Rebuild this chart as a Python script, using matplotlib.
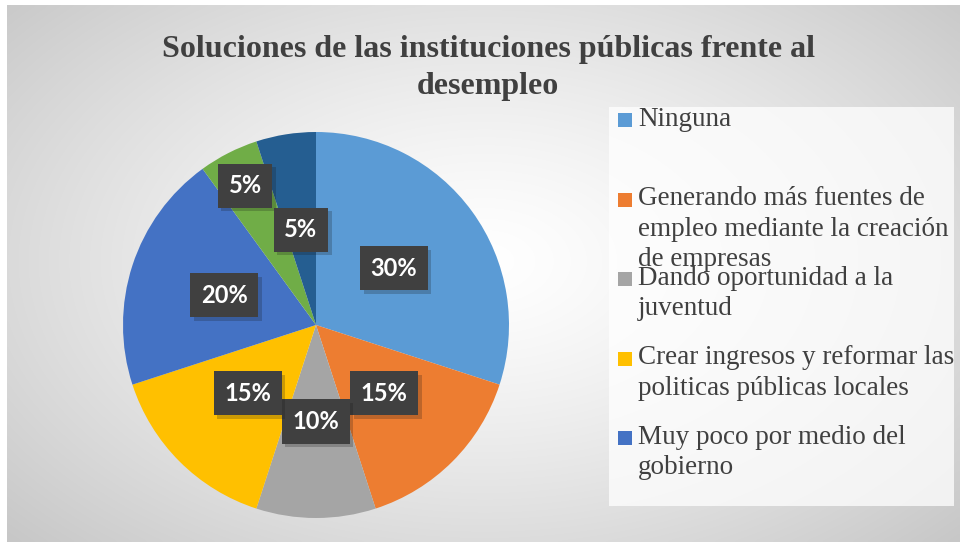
import numpy as np
import matplotlib
matplotlib.use("Agg")
import matplotlib.pyplot as plt
from matplotlib.patches import Rectangle
import matplotlib.patheffects as pe

title = "Soluciones de las instituciones públicas frente al\ndesempleo"
categories = [
    "Ninguna",
    "Generando más fuentes de empleo mediante la creación de empresas",
    "Dando oportunidad a la juventud",
    "Crear ingresos y reformar las politicas públicas locales",
    "Muy poco por medio del gobierno",
    "Otra respuesta",
    "No sabe",
]
values = [30, 15, 10, 15, 20, 5, 5]
colors = ["#5B9BD5", "#ED7D31", "#A5A5A5", "#FFC000", "#4472C4", "#70AD47", "#255E91"]
legend_shown = 5  # entries visible in the (clipped) legend box

W, H = 960, 542
fig = plt.figure(figsize=(W / 100, H / 100), dpi=100)
fig.patch.set_facecolor("white")

# background with radial gradient
bg = fig.add_axes([7 / W, 0, 1 - 7 / W, 1 - 5 / H])
bg.set_axis_off()
yy, xx = np.mgrid[0:200, 0:350]
cx, cy = 175, 95
d = np.sqrt(((xx - cx) / 175.0) ** 2 + ((yy - cy) / 110.0) ** 2)
d = np.clip(d / d.max(), 0, 1)
val = 1.0 - 0.22 * d ** 1.3
img = np.dstack([val, val, val])
bg.imshow(img, extent=[0, 1, 0, 1], aspect="auto", interpolation="bicubic")
bg.set_xlim(0, 1)
bg.set_ylim(0, 1)

# title
fig.text(488 / W, 1 - 68 / H, title, ha="center", va="center",
         fontsize=23, fontweight="bold", family="Liberation Serif",
         color="#404040", linespacing=1.4)

# pie
pcx, pcy, r = 316, 325, 193
ax = fig.add_axes([(pcx - r) / W, (H - pcy - r) / H, 2 * r / W, 2 * r / H])
wedges, _ = ax.pie(values, colors=colors, startangle=90, counterclock=False,
                   radius=1, wedgeprops=dict(linewidth=0))
ax.set_xlim(-1, 1)
ax.set_ylim(-1, 1)
ax.set_aspect("equal")
ax.set_axis_off()

total = float(sum(values))
for i, (w, v) in enumerate(zip(wedges, values)):
    th = np.deg2rad((w.theta1 + w.theta2) / 2)
    dist = 0.81 if i == 5 else 0.5
    t = ax.text(dist * np.cos(th), dist * np.sin(th), f"{v / total * 100:.0f}%",
                ha="center", va="center", color="white", fontsize=17,
                fontweight="bold", family="Lato", zorder=5,
                bbox=dict(boxstyle="square,pad=0.45", facecolor="#404040",
                          edgecolor="none", linewidth=0))
    t.get_bbox_patch().set_path_effects(
        [pe.SimplePatchShadow(offset=(2.5, -2.5), alpha=0.22), pe.Normal()])

# legend (manual, clipped like original)
lx0, ly0, lx1, ly1 = 609, 107, 954, 506
fig.patches.append(Rectangle((lx0 / W, 1 - ly1 / H), (lx1 - lx0) / W, (ly1 - ly0) / H,
                             transform=fig.transFigure, facecolor="white",
                             alpha=0.75, edgecolor="none", zorder=1))

renderer = fig.canvas.get_renderer()
lfont = dict(fontsize=19.5, family="Liberation Serif", color="#404040")


def wrap(text, maxw):
    words = text.split()
    lines, cur = [], ""
    for wd in words:
        trial = (cur + " " + wd).strip()
        tt = fig.text(0, 0, trial, **lfont)
        wpx = tt.get_window_extent(renderer).width
        tt.remove()
        if wpx > maxw and cur:
            lines.append(cur)
            cur = wd
        else:
            cur = trial
    lines.append(cur)
    return "\n".join(lines)


for i in range(legend_shown):
    yc = 120 + i * 79.5
    fig.patches.append(Rectangle((618 / W, 1 - (yc + 7) / H), 14 / W, 14 / H,
                                 transform=fig.transFigure, facecolor=colors[i],
                                 edgecolor="none", zorder=2))
    fig.text(638 / W, 1 - (yc - 13) / H, wrap(categories[i], 318),
             ha="left", va="top", linespacing=1.27, zorder=3, **lfont)

fig.savefig("out.png", dpi=100)
